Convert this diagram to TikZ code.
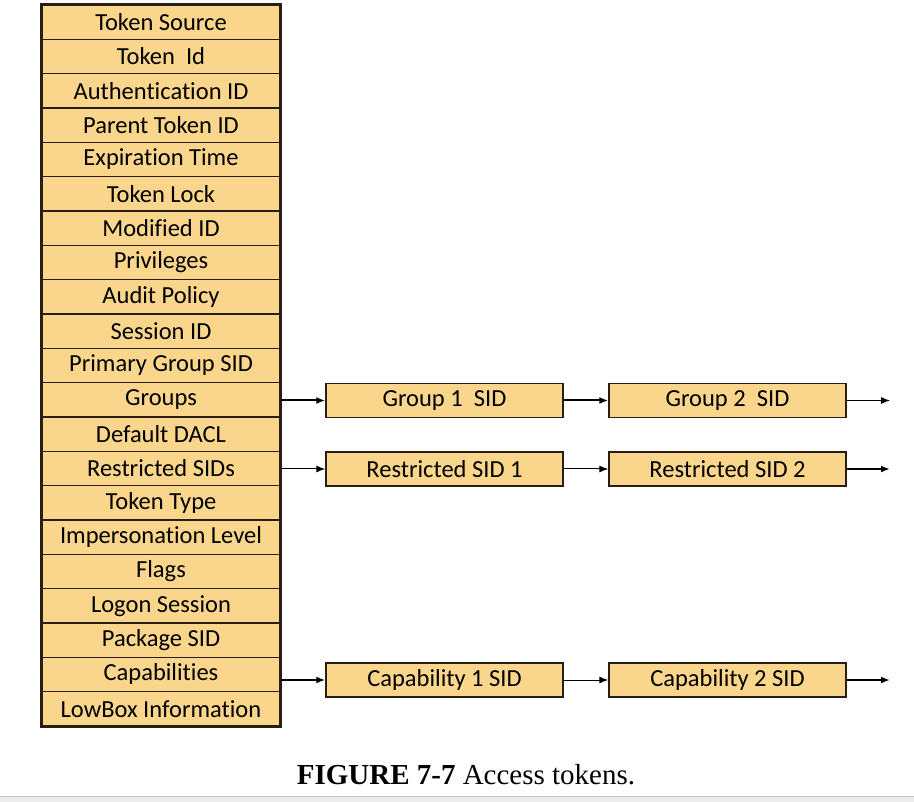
\documentclass[tikz,border=0pt]{standalone}
\usepackage{fontspec}
\setmainfont{Carlito}[Ligatures=NoCommon]
\newfontfamily\capfont{Liberation Serif}
\usetikzlibrary{arrows.meta}
\definecolor{boxfill}{RGB}{250,214,140}
\definecolor{boxline}{RGB}{40,30,20}
\definecolor{stripgray}{RGB}{236,236,236}
\definecolor{stripline}{RGB}{200,200,200}
\begin{document}
\begin{tikzpicture}[x=1pt,y=-1pt,
  row/.style={draw=boxline,fill=boxfill,line width=1.2pt,minimum width=238pt,minimum height=34.33pt,inner sep=0pt,font=\fontsize{24.5}{26}\selectfont},
  sidbox/.style={draw=boxline,fill=boxfill,line width=1.4pt,minimum width=237pt,minimum height=34pt,inner sep=0pt,font=\fontsize{24.5}{26}\selectfont},
  thickarr/.style={line width=2pt,-{Latex[length=9pt,width=7pt]}},
  thinarr/.style={line width=1pt,-{Latex[length=9pt,width=7pt]}}]
\useasboundingbox (0,0) rectangle (914,802);
\fill[stripgray] (0,796) rectangle (914,802);
\draw[stripline,line width=1pt] (0,796) -- (914,796);
\foreach \t [count=\i] in {Token Source,Token\ \ Id,Authentication ID,Parent Token ID,Expiration Time,Token Lock,Modified ID,Privileges,Audit Policy,Session ID,Primary Group SID,Groups,Default DACL,Restricted SIDs,Token Type,Impersonation Level,Flags,Logon Session,Package SID,Capabilities,LowBox Information}
  \node[row] (r\i) at (161,{5+34.33*(\i-0.5)}) {\t};
\draw[boxline,line width=3pt] (r1.north west) rectangle (r21.south east);
\node[sidbox] (g1) at (444.5,400.5) {Group 1\ \ SID};
\node[sidbox] (g2) at (727.5,400.5) {Group 2\ \ SID};
\node[sidbox] (s1) at (444.5,469) {Restricted SID 1};
\node[sidbox] (s2) at (727.5,469) {Restricted SID 2};
\node[sidbox] (c1) at (444.5,680) {Capability 1 SID};
\node[sidbox] (c2) at (727.5,680) {Capability 2 SID};
\coordinate (ge) at (890,400.5);
\coordinate (se) at (890,469);
\coordinate (ce) at (890,680);
\draw[thickarr] (r12.east |- g1.west) -- (g1.west);
\draw[thickarr] (g1) -- (g2);
\draw[thinarr] (g2) -- (ge);
\draw[thinarr] (r14.east |- s1.west) -- (s1.west);
\draw[thinarr] (s1) -- (s2);
\draw[thickarr] (s2) -- (se);
\draw[thickarr] (r20.east |- c1.west) -- (c1.west);
\draw[thinarr] (c1) -- (c2);
\draw[thickarr] (c2) -- (ce);
\node[font=\capfont\fontsize{29}{32}\selectfont] (cap) at (466,775) {\textbf{FIGURE 7-7} Access tokens.};
\end{tikzpicture}
\end{document}
